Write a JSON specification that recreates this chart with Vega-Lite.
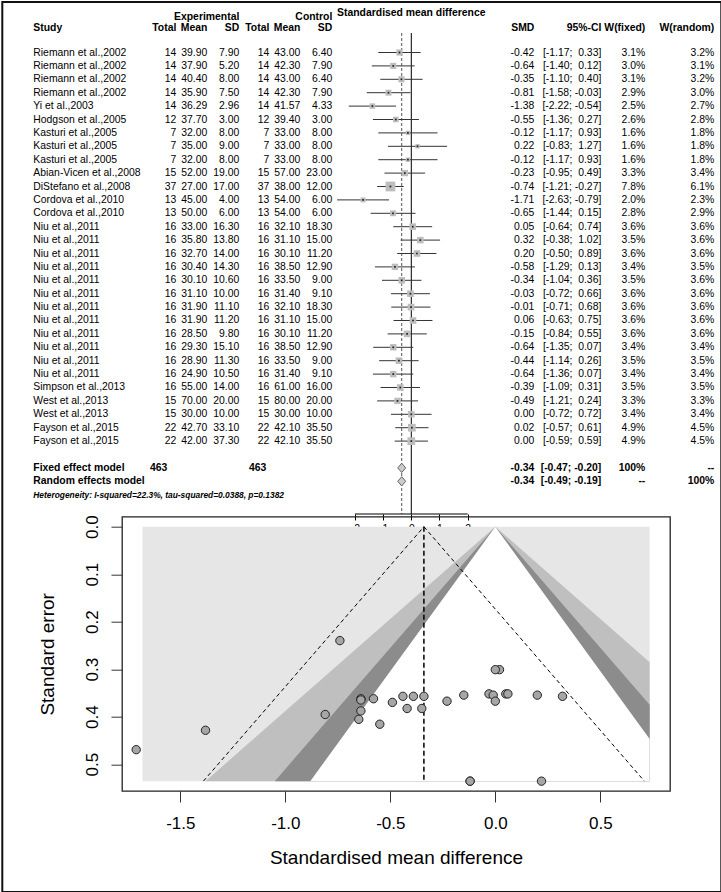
{
  "$schema": "https://vega.github.io/schema/vega-lite/v6.json",
  "padding": 0,
  "background": "white",
  "config": {
    "view": {"stroke": null},
    "font": "Liberation Sans",
    "axis": {"labelFont": "Liberation Sans", "titleFont": "Liberation Sans"},
    "locale": {"number": {"decimal": ".", "thousands": ",", "grouping": [3], "currency": ["$", ""], "minus": "-"}}
  },
  "datasets": {
    "studies": [
      {"id":"s01","study":"Riemann et al.,2002","eT":14,"eM":39.9,"eSD":7.9,"cT":14,"cM":43.0,"cSD":6.4,"smd":-0.42,"lo":-1.17,"hi":0.33,"ci":"[-1.17; \u00a00.33]","wf":0.031,"wr":0.032,"se":0.3827},
      {"id":"s02","study":"Riemann et al.,2002","eT":14,"eM":37.9,"eSD":5.2,"cT":14,"cM":42.3,"cSD":7.9,"smd":-0.64,"lo":-1.40,"hi":0.12,"ci":"[-1.40; \u00a00.12]","wf":0.030,"wr":0.031,"se":0.3878},
      {"id":"s03","study":"Riemann et al.,2002","eT":14,"eM":40.4,"eSD":8.0,"cT":14,"cM":43.0,"cSD":6.4,"smd":-0.35,"lo":-1.10,"hi":0.40,"ci":"[-1.10; \u00a00.40]","wf":0.031,"wr":0.032,"se":0.3827},
      {"id":"s04","study":"Riemann et al.,2002","eT":14,"eM":35.9,"eSD":7.5,"cT":14,"cM":42.3,"cSD":7.9,"smd":-0.81,"lo":-1.58,"hi":-0.03,"ci":"[-1.58; -0.03]","wf":0.029,"wr":0.030,"se":0.3954},
      {"id":"s05","study":"Yi et al.,2003","eT":14,"eM":36.29,"eSD":2.96,"cT":14,"cM":41.57,"cSD":4.33,"smd":-1.38,"lo":-2.22,"hi":-0.54,"ci":"[-2.22; -0.54]","wf":0.025,"wr":0.027,"se":0.4286},
      {"id":"s06","study":"Hodgson et al.,2005","eT":12,"eM":37.7,"eSD":3.0,"cT":12,"cM":39.4,"cSD":3.0,"smd":-0.55,"lo":-1.36,"hi":0.27,"ci":"[-1.36; \u00a00.27]","wf":0.026,"wr":0.028,"se":0.4158},
      {"id":"s07","study":"Kasturi et al.,2005","eT":7,"eM":32.0,"eSD":8.0,"cT":7,"cM":33.0,"cSD":8.0,"smd":-0.12,"lo":-1.17,"hi":0.93,"ci":"[-1.17; \u00a00.93]","wf":0.016,"wr":0.018,"se":0.5357},
      {"id":"s08","study":"Kasturi et al.,2005","eT":7,"eM":35.0,"eSD":9.0,"cT":7,"cM":33.0,"cSD":8.0,"smd":0.22,"lo":-0.83,"hi":1.27,"ci":"[-0.83; \u00a01.27]","wf":0.016,"wr":0.018,"se":0.5357},
      {"id":"s09","study":"Kasturi et al.,2005","eT":7,"eM":32.0,"eSD":8.0,"cT":7,"cM":33.0,"cSD":8.0,"smd":-0.12,"lo":-1.17,"hi":0.93,"ci":"[-1.17; \u00a00.93]","wf":0.016,"wr":0.018,"se":0.5357},
      {"id":"s10","study":"Abian-Vicen et al.,2008","eT":15,"eM":52.0,"eSD":19.0,"cT":15,"cM":57.0,"cSD":23.0,"smd":-0.23,"lo":-0.95,"hi":0.49,"ci":"[-0.95; \u00a00.49]","wf":0.033,"wr":0.034,"se":0.3673},
      {"id":"s11","study":"DiStefano et al.,2008","eT":37,"eM":27.0,"eSD":17.0,"cT":37,"cM":38.0,"cSD":12.0,"smd":-0.74,"lo":-1.21,"hi":-0.27,"ci":"[-1.21; -0.27]","wf":0.078,"wr":0.061,"se":0.2398},
      {"id":"s12","study":"Cordova et al.,2010","eT":13,"eM":45.0,"eSD":4.0,"cT":13,"cM":54.0,"cSD":6.0,"smd":-1.71,"lo":-2.63,"hi":-0.79,"ci":"[-2.63; -0.79]","wf":0.020,"wr":0.023,"se":0.4694},
      {"id":"s13","study":"Cordova et al.,2010","eT":13,"eM":50.0,"eSD":6.0,"cT":13,"cM":54.0,"cSD":6.0,"smd":-0.65,"lo":-1.44,"hi":0.15,"ci":"[-1.44; \u00a00.15]","wf":0.028,"wr":0.029,"se":0.4056},
      {"id":"s14","study":"Niu et al.,2011","eT":16,"eM":33.0,"eSD":16.3,"cT":16,"cM":32.1,"cSD":18.3,"smd":0.05,"lo":-0.64,"hi":0.74,"ci":"[-0.64; \u00a00.74]","wf":0.036,"wr":0.036,"se":0.3520},
      {"id":"s15","study":"Niu et al.,2011","eT":16,"eM":35.8,"eSD":13.8,"cT":16,"cM":31.1,"cSD":15.0,"smd":0.32,"lo":-0.38,"hi":1.02,"ci":"[-0.38; \u00a01.02]","wf":0.035,"wr":0.036,"se":0.3571},
      {"id":"s16","study":"Niu et al.,2011","eT":16,"eM":32.7,"eSD":14.0,"cT":16,"cM":30.1,"cSD":11.2,"smd":0.20,"lo":-0.50,"hi":0.89,"ci":"[-0.50; \u00a00.89]","wf":0.036,"wr":0.036,"se":0.3546},
      {"id":"s17","study":"Niu et al.,2011","eT":16,"eM":30.4,"eSD":14.3,"cT":16,"cM":38.5,"cSD":12.9,"smd":-0.58,"lo":-1.29,"hi":0.13,"ci":"[-1.29; \u00a00.13]","wf":0.034,"wr":0.035,"se":0.3622},
      {"id":"s18","study":"Niu et al.,2011","eT":16,"eM":30.1,"eSD":10.6,"cT":16,"cM":33.5,"cSD":9.0,"smd":-0.34,"lo":-1.04,"hi":0.36,"ci":"[-1.04; \u00a00.36]","wf":0.035,"wr":0.036,"se":0.3571},
      {"id":"s19","study":"Niu et al.,2011","eT":16,"eM":31.1,"eSD":10.0,"cT":16,"cM":31.4,"cSD":9.1,"smd":-0.03,"lo":-0.72,"hi":0.66,"ci":"[-0.72; \u00a00.66]","wf":0.036,"wr":0.036,"se":0.3520},
      {"id":"s20","study":"Niu et al.,2011","eT":16,"eM":31.9,"eSD":11.1,"cT":16,"cM":32.1,"cSD":18.3,"smd":-0.01,"lo":-0.71,"hi":0.68,"ci":"[-0.71; \u00a00.68]","wf":0.036,"wr":0.036,"se":0.3546},
      {"id":"s21","study":"Niu et al.,2011","eT":16,"eM":31.9,"eSD":11.2,"cT":16,"cM":31.1,"cSD":15.0,"smd":0.06,"lo":-0.63,"hi":0.75,"ci":"[-0.63; \u00a00.75]","wf":0.036,"wr":0.036,"se":0.3520},
      {"id":"s22","study":"Niu et al.,2011","eT":16,"eM":28.5,"eSD":9.8,"cT":16,"cM":30.1,"cSD":11.2,"smd":-0.15,"lo":-0.84,"hi":0.55,"ci":"[-0.84; \u00a00.55]","wf":0.036,"wr":0.036,"se":0.3546},
      {"id":"s23","study":"Niu et al.,2011","eT":16,"eM":29.3,"eSD":15.1,"cT":16,"cM":38.5,"cSD":12.9,"smd":-0.64,"lo":-1.35,"hi":0.07,"ci":"[-1.35; \u00a00.07]","wf":0.034,"wr":0.034,"se":0.3622},
      {"id":"s24","study":"Niu et al.,2011","eT":16,"eM":28.9,"eSD":11.3,"cT":16,"cM":33.5,"cSD":9.0,"smd":-0.44,"lo":-1.14,"hi":0.26,"ci":"[-1.14; \u00a00.26]","wf":0.035,"wr":0.035,"se":0.3571},
      {"id":"s25","study":"Niu et al.,2011","eT":16,"eM":24.9,"eSD":10.5,"cT":16,"cM":31.4,"cSD":9.1,"smd":-0.64,"lo":-1.36,"hi":0.07,"ci":"[-1.36; \u00a00.07]","wf":0.034,"wr":0.034,"se":0.3648},
      {"id":"s26","study":"Simpson et al.,2013","eT":16,"eM":55.0,"eSD":14.0,"cT":16,"cM":61.0,"cSD":16.0,"smd":-0.39,"lo":-1.09,"hi":0.31,"ci":"[-1.09; \u00a00.31]","wf":0.035,"wr":0.035,"se":0.3571},
      {"id":"s27","study":"West et al.,2013","eT":15,"eM":70.0,"eSD":20.0,"cT":15,"cM":80.0,"cSD":20.0,"smd":-0.49,"lo":-1.21,"hi":0.24,"ci":"[-1.21; \u00a00.24]","wf":0.033,"wr":0.033,"se":0.3699},
      {"id":"s28","study":"West et al.,2013","eT":15,"eM":30.0,"eSD":10.0,"cT":15,"cM":30.0,"cSD":10.0,"smd":0.00,"lo":-0.72,"hi":0.72,"ci":"[-0.72; \u00a00.72]","wf":0.034,"wr":0.034,"se":0.3673},
      {"id":"s29","study":"Fayson et al.,2015","eT":22,"eM":42.7,"eSD":33.1,"cT":22,"cM":42.1,"cSD":35.5,"smd":0.02,"lo":-0.57,"hi":0.61,"ci":"[-0.57; \u00a00.61]","wf":0.049,"wr":0.045,"se":0.3010},
      {"id":"s30","study":"Fayson et al.,2015","eT":22,"eM":42.0,"eSD":37.3,"cT":22,"cM":42.1,"cSD":35.5,"smd":0.00,"lo":-0.59,"hi":0.59,"ci":"[-0.59; \u00a00.59]","wf":0.049,"wr":0.045,"se":0.3010}
    ],
    "summary": [
      {"id":"fixed","label":"Fixed effect model","nE":463,"nC":463,"smd":-0.34,"lo":-0.47,"hi":-0.20,"ci":"[-0.47; -0.20]","wf":"100%","wr":"--"},
      {"id":"random","label":"Random effects model","smd":-0.34,"lo":-0.49,"hi":-0.19,"ci":"[-0.49; -0.19]","wf":"--","wr":"100%"}
    ],
    "heterogeneity": [
      {"id":"het","label":"Heterogeneity: I-squared=22.3%, tau-squared=0.0388, p=0.1382"}
    ],
    "funnelbox": [
      {"xmin":-1.68,"xmax":0.735,"semin":0,"semax":0.5357}
    ],
    "contours": [
      {"level":"p01","se":0,"lo":0,"hi":0},
      {"level":"p01","se":0.2853,"lo":-0.735,"hi":0.735},
      {"level":"p01","se":0.5357,"lo":-1.380,"hi":0.735},
      {"level":"p05","se":0,"lo":0,"hi":0},
      {"level":"p05","se":0.375,"lo":-0.735,"hi":0.735},
      {"level":"p05","se":0.5357,"lo":-1.050,"hi":0.735},
      {"level":"p10","se":0,"lo":0,"hi":0},
      {"level":"p10","se":0.4468,"lo":-0.735,"hi":0.735},
      {"level":"p10","se":0.5357,"lo":-0.881,"hi":0.735}
    ],
    "pseudo": [
      {"side":"lower","smd":-0.34,"se":0},
      {"side":"lower","smd":-1.39,"se":0.5357},
      {"side":"upper","smd":-0.34,"se":0},
      {"side":"upper","smd":0.71,"se":0.5357}
    ],
    "fixedline": [
      {"smd":-0.34,"se0":0,"se1":0.5357}
    ]
  },
  "spacing": 10.7,
  "bounds": "flush",
  "vconcat": [
    {
      "width": 548,
      "height": 505,
      "layer": [
        {
          "data": {"values": [{"ref": 0}]},
          "mark": {"type": "rule", "color": "black", "strokeWidth": 1, "yOffset": 7.3, "y2Offset": 8},
          "encoding": {
            "x": {"field": "ref", "type": "quantitative"},
            "y": {"datum": "h2", "type": "nominal", "axis": null},
            "y2": {"value": "height"}
          }
        },
        {
          "data": {"name": "summary"},
          "transform": [{"filter": "datum.id == 'random'"}],
          "mark": {"type": "rule", "color": "#555555", "strokeWidth": 1, "strokeDash": [3, 2], "yOffset": 7.3, "y2Offset": 8},
          "encoding": {
            "x": {"field": "smd", "type": "quantitative"},
            "y": {"datum": "h2", "type": "nominal", "axis": null},
            "y2": {"value": "height"}
          }
        },
        {
          "data": {"values": [{"a": -2, "b": 2}]},
          "mark": {"type": "rule", "color": "black", "strokeWidth": 1, "yOffset": 8},
          "encoding": {
            "x": {"field": "a", "type": "quantitative"},
            "x2": {"field": "b"},
            "y": {"value": "height"}
          }
        },
        {
          "data": {"name": "studies"},
          "mark": {"type": "rule", "color": "#333333", "strokeWidth": 1},
          "encoding": {
            "x": {"field": "lo", "type": "quantitative",
                  "scale": {"domain": [-10.258865, 9.173759], "nice": false, "zero": false},
                  "axis": {"values": [-2, -1, 0, 1, 2], "format": "d", "domain": false, "grid": false, "title": null,
                           "offset": 8, "tickSize": 6, "tickColor": "black", "tickWidth": 1, "labelFontSize": 10.4,
                           "labelColor": "black", "labelPadding": 3}},
            "x2": {"field": "hi"},
            "y": {"field": "id", "type": "nominal",
                  "scale": {"type": "point", "padding": 0.8433,
                            "domain": ["h1","h2","b1","s01","s02","s03","s04","s05","s06","s07","s08","s09","s10","s11","s12","s13","s14","s15","s16","s17","s18","s19","s20","s21","s22","s23","s24","s25","s26","s27","s28","s29","s30","b2","fixed","random","het"]},
                  "axis": null}
          }
        },
        {
          "data": {"name": "studies"},
          "mark": {"type": "point", "shape": "square", "filled": true, "color": "#bdbdbd", "opacity": 1},
          "encoding": {
            "x": {"field": "smd", "type": "quantitative"},
            "y": {"field": "id", "type": "nominal", "axis": null},
            "size": {"field": "wf", "type": "quantitative", "scale": {"domain": [0, 0.078], "range": [0, 95]}, "legend": null}
          }
        },
        {
          "data": {"name": "studies"},
          "mark": {"type": "point", "shape": "square", "filled": true, "color": "#222222", "size": 3, "opacity": 1},
          "encoding": {
            "x": {"field": "smd", "type": "quantitative"},
            "y": {"field": "id", "type": "nominal", "axis": null}
          }
        },
        {
          "data": {"name": "summary"},
          "mark": {"type": "point", "shape": "M-1,0L0,-1.15L1,0L0,1.15Z", "filled": true, "fill": "#cccccc", "stroke": "#444444", "strokeWidth": 0.8, "size": 64, "opacity": 1},
          "encoding": {
            "x": {"field": "smd", "type": "quantitative"},
            "y": {"field": "id", "type": "nominal", "axis": null}
          }
        },
        {
          "data": {"name": "studies"},
          "encoding": {"y": {"field": "id", "type": "nominal", "axis": null}},
          "layer": [
            {"mark": {"type": "text", "align": "left", "baseline": "middle", "fontSize": 10.4, "color": "black"},
             "encoding": {"x": {"datum": -13.404, "type": "quantitative"}, "text": {"field": "study"}}},
            {"mark": {"type": "text", "align": "right", "baseline": "middle", "fontSize": 10.4, "color": "black"},
             "encoding": {"x": {"datum": -8.333, "type": "quantitative"}, "text": {"field": "eT", "format": "d"}}},
            {"mark": {"type": "text", "align": "right", "baseline": "middle", "fontSize": 10.4, "color": "black"},
             "encoding": {"x": {"datum": -7.234, "type": "quantitative"}, "text": {"field": "eM", "format": ".2f"}}},
            {"mark": {"type": "text", "align": "right", "baseline": "middle", "fontSize": 10.4, "color": "black"},
             "encoding": {"x": {"datum": -6.099, "type": "quantitative"}, "text": {"field": "eSD", "format": ".2f"}}},
            {"mark": {"type": "text", "align": "right", "baseline": "middle", "fontSize": 10.4, "color": "black"},
             "encoding": {"x": {"datum": -5.035, "type": "quantitative"}, "text": {"field": "cT", "format": "d"}}},
            {"mark": {"type": "text", "align": "right", "baseline": "middle", "fontSize": 10.4, "color": "black"},
             "encoding": {"x": {"datum": -3.936, "type": "quantitative"}, "text": {"field": "cM", "format": ".2f"}}},
            {"mark": {"type": "text", "align": "right", "baseline": "middle", "fontSize": 10.4, "color": "black"},
             "encoding": {"x": {"datum": -2.801, "type": "quantitative"}, "text": {"field": "cSD", "format": ".2f"}}},
            {"mark": {"type": "text", "align": "right", "baseline": "middle", "fontSize": 10.4, "color": "black"},
             "encoding": {"x": {"datum": 4.362, "type": "quantitative"}, "text": {"field": "smd", "format": ".2f"}}},
            {"mark": {"type": "text", "align": "right", "baseline": "middle", "fontSize": 10.4, "color": "black"},
             "encoding": {"x": {"datum": 6.738, "type": "quantitative"}, "text": {"field": "ci"}}},
            {"mark": {"type": "text", "align": "right", "baseline": "middle", "fontSize": 10.4, "color": "black"},
             "encoding": {"x": {"datum": 8.298, "type": "quantitative"}, "text": {"field": "wf", "format": ".1%"}}},
            {"mark": {"type": "text", "align": "right", "baseline": "middle", "fontSize": 10.4, "color": "black"},
             "encoding": {"x": {"datum": 10.745, "type": "quantitative"}, "text": {"field": "wr", "format": ".1%"}}}
          ]
        },
        {
          "data": {"name": "summary"},
          "encoding": {"y": {"field": "id", "type": "nominal", "axis": null}},
          "layer": [
            {"mark": {"type": "text", "align": "left", "baseline": "middle", "fontSize": 10.4, "fontWeight": "bold", "color": "black"},
             "encoding": {"x": {"datum": -13.404, "type": "quantitative"}, "text": {"field": "label"}}},
            {"transform": [{"filter": "isValid(datum.nE)"}],
             "mark": {"type": "text", "align": "right", "baseline": "middle", "fontSize": 10.4, "fontWeight": "bold", "color": "black", "dx": -9},
             "encoding": {"x": {"datum": -8.333, "type": "quantitative"}, "text": {"field": "nE", "format": "d"}}},
            {"transform": [{"filter": "isValid(datum.nC)"}],
             "mark": {"type": "text", "align": "right", "baseline": "middle", "fontSize": 10.4, "fontWeight": "bold", "color": "black", "dx": -3},
             "encoding": {"x": {"datum": -5.035, "type": "quantitative"}, "text": {"field": "nC", "format": "d"}}},
            {"mark": {"type": "text", "align": "right", "baseline": "middle", "fontSize": 10.4, "fontWeight": "bold", "color": "black"},
             "encoding": {"x": {"datum": 4.362, "type": "quantitative"}, "text": {"field": "smd", "format": ".2f"}}},
            {"mark": {"type": "text", "align": "right", "baseline": "middle", "fontSize": 10.4, "fontWeight": "bold", "color": "black"},
             "encoding": {"x": {"datum": 6.738, "type": "quantitative"}, "text": {"field": "ci"}}},
            {"mark": {"type": "text", "align": "right", "baseline": "middle", "fontSize": 10.4, "fontWeight": "bold", "color": "black"},
             "encoding": {"x": {"datum": 8.298, "type": "quantitative"}, "text": {"field": "wf"}}},
            {"mark": {"type": "text", "align": "right", "baseline": "middle", "fontSize": 10.4, "fontWeight": "bold", "color": "black"},
             "encoding": {"x": {"datum": 10.745, "type": "quantitative"}, "text": {"field": "wr"}}}
          ]
        },
        {
          "data": {"name": "heterogeneity"},
          "mark": {"type": "text", "align": "left", "baseline": "middle", "fontSize": 8.4, "fontWeight": "bold", "fontStyle": "italic", "color": "black"},
          "encoding": {
            "x": {"datum": -13.404, "type": "quantitative"},
            "y": {"field": "id", "type": "nominal", "axis": null},
            "text": {"field": "label"}
          }
        },
        {
          "data": {"values": [{"h": 1}]},
          "layer": [
            {"mark": {"type": "text", "align": "right", "baseline": "middle", "fontSize": 10.4, "fontWeight": "bold", "color": "black", "dy": 4.7},
             "encoding": {"x": {"datum": -6.099, "type": "quantitative"}, "y": {"datum": "h1", "type": "nominal", "axis": null}, "text": {"value": "Experimental"}}},
            {"mark": {"type": "text", "align": "right", "baseline": "middle", "fontSize": 10.4, "fontWeight": "bold", "color": "black", "dy": 4.7},
             "encoding": {"x": {"datum": -2.801, "type": "quantitative"}, "y": {"datum": "h1", "type": "nominal", "axis": null}, "text": {"value": "Control"}}},
            {"mark": {"type": "text", "align": "center", "baseline": "middle", "fontSize": 10.4, "fontWeight": "bold", "color": "black", "dy": 0.7},
             "encoding": {"x": {"datum": 0, "type": "quantitative"}, "y": {"datum": "h1", "type": "nominal", "axis": null}, "text": {"value": "Standardised mean difference"}}},
            {"mark": {"type": "text", "align": "left", "baseline": "middle", "fontSize": 10.4, "fontWeight": "bold", "color": "black", "dy": 2.3},
             "encoding": {"x": {"datum": -13.404, "type": "quantitative"}, "y": {"datum": "h2", "type": "nominal", "axis": null}, "text": {"value": "Study"}}},
            {"mark": {"type": "text", "align": "right", "baseline": "middle", "fontSize": 10.4, "fontWeight": "bold", "color": "black", "dy": 2.3},
             "encoding": {"x": {"datum": -8.333, "type": "quantitative"}, "y": {"datum": "h2", "type": "nominal", "axis": null}, "text": {"value": "Total"}}},
            {"mark": {"type": "text", "align": "right", "baseline": "middle", "fontSize": 10.4, "fontWeight": "bold", "color": "black", "dy": 2.3},
             "encoding": {"x": {"datum": -7.234, "type": "quantitative"}, "y": {"datum": "h2", "type": "nominal", "axis": null}, "text": {"value": "Mean"}}},
            {"mark": {"type": "text", "align": "right", "baseline": "middle", "fontSize": 10.4, "fontWeight": "bold", "color": "black", "dy": 2.3},
             "encoding": {"x": {"datum": -6.099, "type": "quantitative"}, "y": {"datum": "h2", "type": "nominal", "axis": null}, "text": {"value": "SD"}}},
            {"mark": {"type": "text", "align": "right", "baseline": "middle", "fontSize": 10.4, "fontWeight": "bold", "color": "black", "dy": 2.3},
             "encoding": {"x": {"datum": -5.035, "type": "quantitative"}, "y": {"datum": "h2", "type": "nominal", "axis": null}, "text": {"value": "Total"}}},
            {"mark": {"type": "text", "align": "right", "baseline": "middle", "fontSize": 10.4, "fontWeight": "bold", "color": "black", "dy": 2.3},
             "encoding": {"x": {"datum": -3.936, "type": "quantitative"}, "y": {"datum": "h2", "type": "nominal", "axis": null}, "text": {"value": "Mean"}}},
            {"mark": {"type": "text", "align": "right", "baseline": "middle", "fontSize": 10.4, "fontWeight": "bold", "color": "black", "dy": 2.3},
             "encoding": {"x": {"datum": -2.801, "type": "quantitative"}, "y": {"datum": "h2", "type": "nominal", "axis": null}, "text": {"value": "SD"}}},
            {"mark": {"type": "text", "align": "right", "baseline": "middle", "fontSize": 10.4, "fontWeight": "bold", "color": "black", "dy": 2.3},
             "encoding": {"x": {"datum": 4.362, "type": "quantitative"}, "y": {"datum": "h2", "type": "nominal", "axis": null}, "text": {"value": "SMD"}}},
            {"mark": {"type": "text", "align": "right", "baseline": "middle", "fontSize": 10.4, "fontWeight": "bold", "color": "black", "dy": 2.3},
             "encoding": {"x": {"datum": 6.738, "type": "quantitative"}, "y": {"datum": "h2", "type": "nominal", "axis": null}, "text": {"value": "95%-CI"}}},
            {"mark": {"type": "text", "align": "right", "baseline": "middle", "fontSize": 10.4, "fontWeight": "bold", "color": "black", "dy": 2.3},
             "encoding": {"x": {"datum": 8.298, "type": "quantitative"}, "y": {"datum": "h2", "type": "nominal", "axis": null}, "text": {"value": "W(fixed)"}}},
            {"mark": {"type": "text", "align": "right", "baseline": "middle", "fontSize": 10.4, "fontWeight": "bold", "color": "black", "dy": 2.3},
             "encoding": {"x": {"datum": 10.745, "type": "quantitative"}, "y": {"datum": "h2", "type": "nominal", "axis": null}, "text": {"value": "W(random)"}}}
          ]
        }
      ]
    },
    {
      "width": 548,
      "height": 274.3,
      "view": {"stroke": "#222222", "strokeWidth": 1.3},
      "layer": [
        {
          "data": {"values": [{"x1": -2.347619, "x2": 1.07619, "y1": -1.104632, "y2": 0.769053}]},
          "mark": {"type": "rect", "filled": false, "stroke": "#111111", "strokeWidth": 2},
          "encoding": {
            "x": {"field": "x1", "type": "quantitative"},
            "x2": {"field": "x2"},
            "y": {"field": "y1", "type": "quantitative"},
            "y2": {"field": "y2"}
          }
        },
        {
          "data": {"name": "funnelbox"},
          "mark": {"type": "rect", "color": "#e6e6e6"},
          "encoding": {
            "x": {"field": "xmin", "type": "quantitative"},
            "x2": {"field": "xmax"},
            "y": {"field": "semin", "type": "quantitative"},
            "y2": {"field": "semax"}
          }
        },
        {
          "data": {"name": "contours"},
          "transform": [{"filter": "datum.level == 'p01'"}],
          "mark": {"type": "area", "orient": "horizontal", "color": "#bfbfbf", "opacity": 1},
          "encoding": {
            "y": {"field": "se", "type": "quantitative"},
            "x": {"field": "lo", "type": "quantitative", "stack": null},
            "x2": {"field": "hi"}
          }
        },
        {
          "data": {"name": "contours"},
          "transform": [{"filter": "datum.level == 'p05'"}],
          "mark": {"type": "area", "orient": "horizontal", "color": "#8c8c8c", "opacity": 1},
          "encoding": {
            "y": {"field": "se", "type": "quantitative"},
            "x": {"field": "lo", "type": "quantitative", "stack": null},
            "x2": {"field": "hi"}
          }
        },
        {
          "data": {"name": "contours"},
          "transform": [{"filter": "datum.level == 'p10'"}],
          "mark": {"type": "area", "orient": "horizontal", "color": "#ffffff", "opacity": 1},
          "encoding": {
            "y": {"field": "se", "type": "quantitative"},
            "x": {"field": "lo", "type": "quantitative", "stack": null},
            "x2": {"field": "hi"}
          }
        },
        {
          "data": {"name": "pseudo"},
          "mark": {"type": "line", "color": "black", "strokeWidth": 1, "strokeDash": [4, 3]},
          "encoding": {
            "x": {"field": "smd", "type": "quantitative"},
            "y": {"field": "se", "type": "quantitative"},
            "detail": {"field": "side"}
          }
        },
        {
          "data": {"name": "fixedline"},
          "mark": {"type": "rule", "color": "black", "strokeWidth": 1.5, "strokeDash": [5, 3]},
          "encoding": {
            "x": {"field": "smd", "type": "quantitative"},
            "y": {"field": "se0", "type": "quantitative"},
            "y2": {"field": "se1"}
          }
        },
        {
          "data": {"name": "studies"},
          "mark": {"type": "point", "shape": "circle", "filled": true, "fill": "#a6a6a6", "stroke": "#222222", "strokeWidth": 1, "size": 70, "opacity": 1},
          "encoding": {
            "x": {"field": "smd", "type": "quantitative",
                  "scale": {"domain": [-1.777619, 0.831905], "nice": false, "zero": false},
                  "axis": {"values": [-1.5, -1, -0.5, 0, 0.5], "format": ".1f", "title": "Standardised mean difference",
                           "grid": false, "domain": false, "tickSize": 11, "tickColor": "#333333", "tickWidth": 1,
                           "labelFontSize": 17, "labelColor": "black", "labelPadding": 13,
                           "titleFontSize": 19, "titleFontWeight": "normal", "titleColor": "black", "titlePadding": 17}},
            "y": {"field": "se", "type": "quantitative",
                  "scale": {"domain": [-0.021053, 0.556421], "reverse": true, "nice": false, "zero": false},
                  "axis": {"values": [0, 0.1, 0.2, 0.3, 0.4, 0.5], "format": ".1f", "title": "Standard error",
                           "grid": false, "domain": false, "tickSize": 11, "tickColor": "#333333", "tickWidth": 1,
                           "labelAngle": 270, "labelAlign": "center", "labelBaseline": "alphabetic", "labelPadding": 14,
                           "labelFontSize": 17, "labelColor": "black",
                           "titleFontSize": 19, "titleFontWeight": "normal", "titleColor": "black",
                           "titleAngle": 270, "titleX": -69, "titleBaseline": "alphabetic"}}
          }
        }
      ]
    }
  ]
}
